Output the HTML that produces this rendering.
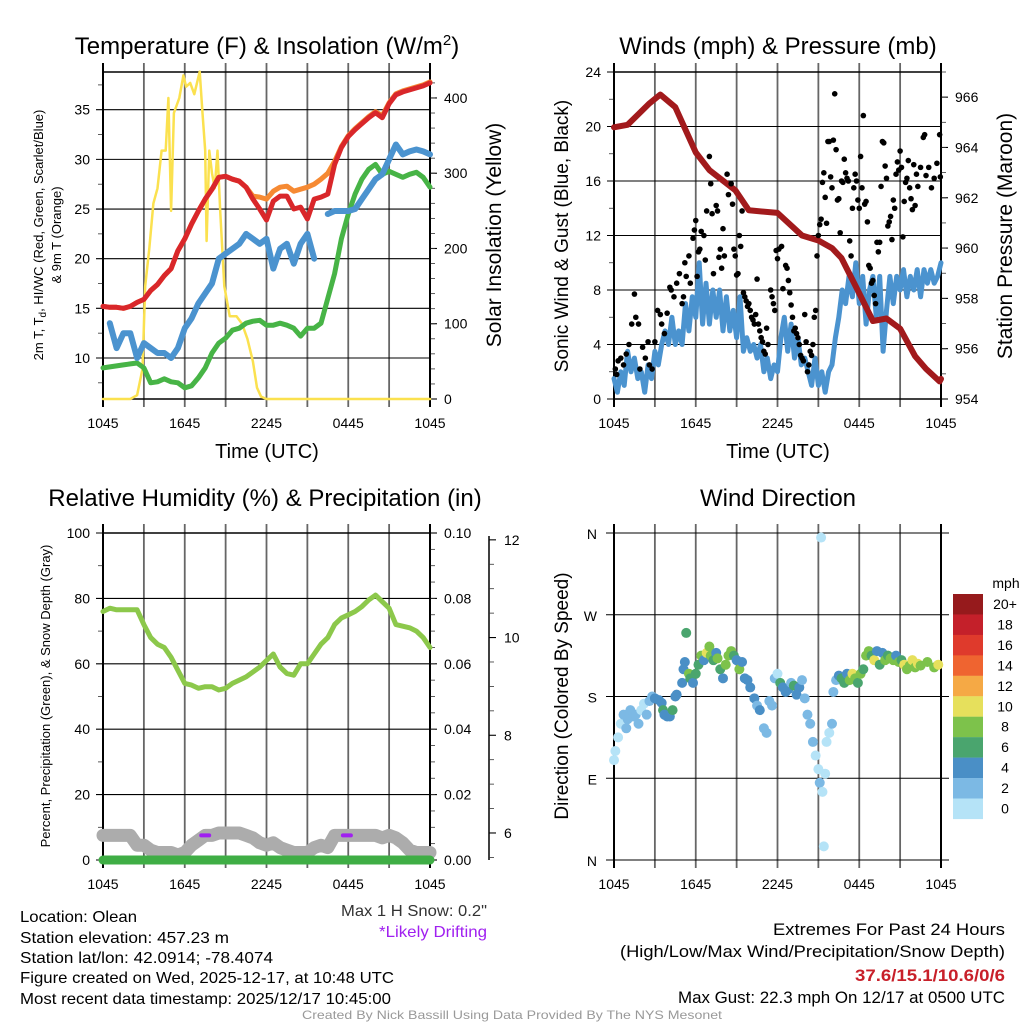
<!DOCTYPE html>
<html><head><meta charset="utf-8"><style>
body{margin:0;background:#fff}
svg text{font-family:"Liberation Sans",sans-serif;fill:#000}
</style></head><body>
<svg id="c" xmlns="http://www.w3.org/2000/svg" width="1024" height="1024" viewBox="0 0 1024 1024">
<rect width="1024" height="1024" fill="#fff"/>
<g id="layer"></g>
<text x="267" y="54" font-size="24" text-anchor="middle">Temperature (F) &amp; Insolation (W/m<tspan dy="-9" font-size="15">2</tspan><tspan dy="9">)</tspan></text>
<text x="778" y="54" font-size="24" text-anchor="middle">Winds (mph) &amp; Pressure (mb)</text>
<text x="265" y="506" font-size="24" text-anchor="middle">Relative Humidity (%) &amp; Precipitation (in)</text>
<text x="778" y="506" font-size="24" text-anchor="middle">Wind Direction</text>
<text x="267" y="458" font-size="20" text-anchor="middle">Time (UTC)</text>
<text x="778" y="458" font-size="20" text-anchor="middle">Time (UTC)</text>
<text transform="translate(43,235) rotate(-90)" font-size="13" text-anchor="middle">2m T, T<tspan dy="3" font-size="10">d</tspan><tspan dy="-3">, HI/WC (Red, Green, Scarlet/Blue)</tspan></text>
<text transform="translate(61,235) rotate(-90)" font-size="13" text-anchor="middle">&amp; 9m T (Orange)</text>
<text transform="translate(501,235) rotate(-90)" font-size="21" text-anchor="middle">Solar Insolation (Yellow)</text>
<text transform="translate(568,236) rotate(-90)" font-size="19" text-anchor="middle">Sonic Wind &amp; Gust (Blue, Black)</text>
<text transform="translate(1012,236) rotate(-90)" font-size="21" text-anchor="middle">Station Pressure (Maroon)</text>
<text transform="translate(50,696) rotate(-90)" font-size="13" text-anchor="middle">Percent, Precipitation (Green), &amp; Snow Depth (Gray)</text>
<text transform="translate(568,696) rotate(-90)" font-size="19" text-anchor="middle">Direction (Colored By Speed)</text>
<text x="1006" y="588" font-size="14" text-anchor="middle">mph</text>
<g font-size="16">
<text x="20" y="922" textLength="117" lengthAdjust="spacingAndGlyphs">Location: Olean</text>
<text x="20" y="943" textLength="209" lengthAdjust="spacingAndGlyphs">Station elevation: 457.23 m</text>
<text x="20" y="963" textLength="253" lengthAdjust="spacingAndGlyphs">Station lat/lon: 42.0914; -78.4074</text>
<text x="20" y="983" textLength="374" lengthAdjust="spacingAndGlyphs">Figure created on Wed, 2025-12-17, at 10:48 UTC</text>
<text x="20" y="1004" textLength="371" lengthAdjust="spacingAndGlyphs">Most recent data timestamp: 2025/12/17 10:45:00</text>
</g>
<text x="341" y="916" font-size="16" textLength="146" lengthAdjust="spacingAndGlyphs" style="fill:#333">Max 1 H Snow: 0.2"</text>
<text x="379" y="937" font-size="16" textLength="108" lengthAdjust="spacingAndGlyphs" style="fill:#a020f0">*Likely Drifting</text>
<g font-size="17">
<text x="773" y="935" textLength="232" lengthAdjust="spacingAndGlyphs">Extremes For Past 24 Hours</text>
<text x="620" y="957" textLength="385" lengthAdjust="spacingAndGlyphs">(High/Low/Max Wind/Precipitation/Snow Depth)</text>
<text x="855" y="981" font-weight="bold" textLength="150" lengthAdjust="spacingAndGlyphs" style="fill:#c8202a">37.6/15.1/10.6/0/6</text>
<text x="678" y="1003" textLength="327" lengthAdjust="spacingAndGlyphs">Max Gust: 22.3 mph On 12/17 at 0500 UTC</text>
</g>
<text x="302" y="1019" font-size="12" style="fill:#999" textLength="420" lengthAdjust="spacingAndGlyphs">Created By Nick Bassill Using Data Provided By The NYS Mesonet</text>
</svg>
<script>
// ---- data ----
const xTickLabels=["1045","1645","2245","0445","1045"];
const t30=[0,0.5,1,1.5,2,2.5,3,3.5,4,4.5,5,5.5,6,6.5,7,7.5,8,8.5,9,9.5,10,10.5,11,11.5,12,12.5,13,13.5,14,14.5,15,15.5,16,16.5,17,17.5,18,18.5,19,19.5,20,20.5,21,21.5,22,22.5,23,23.5,24];
const tempRed=[15.2,15.1,15.1,15.0,15.2,15.6,15.9,16.8,17.4,18.3,19.0,20.8,22.0,23.5,24.8,26.0,27.0,28.2,28.3,28.0,27.8,27.2,26.0,25.0,23.9,25.8,26.3,26.3,25.0,25.2,24.0,26.0,26.2,26.5,29.5,31.2,32.3,33.0,33.6,34.2,34.7,34.2,35.6,36.5,36.8,37.0,37.2,37.4,37.7];
const temp9m=[15.2,15.1,15.1,15.0,15.2,15.6,15.9,16.8,17.4,18.3,19.0,20.8,22.0,23.5,24.8,26.0,27.0,28.2,28.3,28.0,27.8,27.2,26.3,26.2,26.0,26.8,27.2,27.3,26.8,27.0,27.2,27.5,28.0,28.6,29.8,31.3,32.4,33.1,33.7,34.3,34.8,34.4,35.7,36.6,36.9,37.1,37.3,37.5,37.8];
const dewGreen=[9.0,9.1,9.2,9.3,9.4,9.5,9.0,7.5,7.6,7.9,7.6,7.5,7.0,7.2,8.0,9.0,10.5,11.5,12.0,12.8,13.0,13.5,13.7,13.8,13.3,13.3,13.5,13.3,13.0,12.2,13.0,13.0,13.5,16.0,18.5,22.0,24.5,26.5,28.0,29.0,29.5,28.5,28.8,28.5,28.2,28.5,28.7,28.2,27.2];
const chillBlue=[null,13.5,11.0,12.5,12.5,10.0,11.5,11.0,10.5,10.5,10.0,11.0,13.0,14.0,15.5,16.5,17.5,20.0,20.5,21.0,21.5,22.5,22.0,21.5,22.0,19.0,21.0,21.5,19.5,21.5,22.5,20.0,null,24.5,24.8,24.8,24.8,25.0,26.0,27.0,28.0,28.5,30.0,31.5,30.5,30.8,31.0,30.8,30.5];
const insolT=[0,2,2.5,2.9,3.1,3.4,3.7,4.0,4.3,4.6,4.8,5.0,5.2,5.6,5.9,6.1,6.4,6.7,6.9,7.1,7.3,7.5,7.6,7.8,8.0,8.2,8.4,8.6,8.9,9.3,9.8,10.2,10.6,11.0,11.3,11.6,12,24];
const insolV=[0,0,5,40,150,200,260,280,330,330,400,250,380,400,430,415,420,405,420,435,380,330,210,330,300,280,330,250,150,110,110,100,80,50,15,3,0,0];
const windBlue=[1.5,0.5,2,1,3.5,2,3,1.5,2,0.5,2.5,1.5,3.5,2.5,4,5,4,6,4,5,4,7,5,7.5,6,10,5.5,8.5,5.5,8,6,8,5,7.5,5,6.5,4.5,7.5,3.5,4.5,3.5,4,3,4,2,3,1.5,2.5,2,4.5,6,3.5,5.5,3,4.5,2.5,3,2,1,3,1,2,0.5,2,2.5,4.5,6,8,7,9,7.5,10,7,9,5.5,8,9,6,9,3.5,6.5,9,7,9,8,9.5,7.5,9,8,9.5,7.5,9.5,8.5,9.5,8.5,9,10];
const presT=[0,1,2.6,3.4,4.5,6,7,8.9,9.9,12,13.8,15,16,16.7,18,19,20,21,22.1,22.9,23.9,24];
const presV=[964.8,964.9,965.75,966.1,965.6,963.8,963.1,962.3,961.5,961.4,960.5,960.3,960.0,959.6,958.2,957.1,957.2,956.8,955.7,955.2,954.7,954.8];
const gustPts=[[0.1,2.2],[0.2,1.8],[0.3,2.8],[0.5,3.0],[0.7,2.5],[0.9,3.3],[1.1,4.0],[1.3,5.5],[1.5,7.7],[1.6,6.0],[1.8,5.5],[1.9,2.2],[2.1,3.8],[2.3,3.0],[2.5,4.2],[2.6,2.5],[2.8,2.2],[3.0,4.2],[3.2,6.5],[3.4,6.2],[3.5,5.5],[3.7,4.8],[3.9,6.3],[4.1,8.2],[4.2,8.0],[4.4,7.5],[4.6,8.5],[4.8,9.2],[5.0,7.0],[5.1,7.5],[5.2,10.0],[5.3,9.0],[5.5,10.5],[5.6,8.5],[5.8,11.8],[5.9,12.4],[6.0,13.1],[6.1,9.0],[6.2,10.8],[6.3,11.0],[6.4,12.3],[6.6,12.0],[6.7,10.2],[6.8,13.8],[7.0,17.8],[7.1,15.8],[7.2,13.6],[7.3,9.2],[7.5,14.2],[7.6,13.8],[7.7,10.4],[7.8,11.0],[7.9,9.6],[8.0,12.5],[8.1,10.5],[8.3,16.5],[8.4,15.0],[8.6,15.8],[8.7,14.3],[8.8,11.0],[8.9,10.5],[9.0,9.1],[9.1,9.2],[9.2,12.0],[9.3,11.2],[9.4,13.8],[9.5,7.8],[9.6,7.5],[9.7,7.2],[9.8,6.8],[9.9,7.0],[10.0,6.5],[10.1,6.0],[10.2,5.8],[10.3,5.5],[10.4,6.2],[10.5,8.8],[10.6,5.5],[10.7,5.0],[10.8,4.5],[10.9,4.2],[11.0,3.5],[11.1,3.3],[11.2,5.2],[11.3,4.0],[11.5,8.0],[11.6,7.5],[11.7,7.0],[11.8,6.5],[11.9,10.9],[12.0,10.3],[12.1,11.0],[12.3,11.2],[12.4,8.1],[12.6,9.8],[12.7,9.6],[12.8,8.7],[12.9,7.8],[13.0,6.9],[13.1,6.0],[13.2,5.0],[13.3,5.2],[13.4,4.8],[13.5,4.5],[13.6,4.0],[13.7,3.2],[13.8,3.0],[13.9,2.8],[14.0,6.2],[14.1,4.2],[14.2,2.0],[14.3,2.5],[14.4,3.5],[14.5,3.2],[14.6,4.0],[14.7,6.0],[14.8,6.5],[14.9,10.5],[15.0,12.0],[15.1,12.8],[15.2,13.2],[15.3,15.9],[15.4,16.6],[15.5,14.8],[15.6,12.9],[15.7,18.9],[15.8,18.9],[15.9,16.3],[16.0,15.5],[16.1,19.0],[16.2,22.4],[16.3,18.3],[16.4,14.6],[16.5,14.7],[16.6,12.2],[16.7,16.0],[16.8,15.9],[16.9,17.6],[17.0,16.6],[17.1,16.2],[17.2,16.0],[17.3,11.6],[17.4,10.5],[17.5,14.0],[17.6,15.5],[17.7,16.5],[17.8,16.0],[17.9,14.6],[18.0,14.0],[18.1,17.8],[18.2,15.5],[18.3,20.8],[18.4,14.3],[18.5,14.5],[18.6,13.0],[18.7,9.8],[18.8,9.6],[18.9,8.5],[19.0,8.7],[19.1,7.6],[19.2,7.0],[19.3,11.5],[19.4,10.8],[19.5,11.5],[19.6,15.6],[19.7,18.9],[19.8,18.8],[19.9,17.1],[20.0,16.2],[20.1,12.7],[20.2,13.0],[20.3,13.4],[20.4,11.7],[20.5,14.6],[20.6,14.0],[20.7,16.5],[20.8,17.4],[20.9,16.8],[21.0,18.2],[21.1,17.0],[21.2,11.9],[21.3,14.5],[21.4,15.9],[21.5,16.2],[21.6,17.5],[21.7,15.5],[21.8,14.7],[21.9,13.9],[22.0,17.2],[22.1,14.2],[22.2,16.5],[22.3,15.6],[22.5,17.0],[22.7,19.2],[22.8,19.4],[22.9,16.4],[23.1,17.0],[23.3,15.5],[23.5,16.2],[23.7,17.3],[23.9,19.4],[23.95,16.3]];
const rhT=t30;
const rhV=[76,77,76.5,76.5,76.5,76.5,72,68,66,65,62,58,54,53.5,52.5,53,53,52,52.5,54,55,56,57.5,59,61,63,59,57,56.5,60,60,63,66,68,72,74,75,76,77.5,79.5,81,79,77,72,71.5,71,70,68,65];
const snowV=[5.95,5.95,5.95,5.95,5.95,5.75,5.75,5.65,5.6,5.6,5.6,5.55,5.6,5.75,5.85,5.95,5.95,6.0,6.0,6.0,6.0,5.95,5.9,5.8,5.75,5.8,5.7,5.65,5.6,5.6,5.6,5.7,5.75,5.7,5.95,5.95,5.95,5.95,5.95,5.95,5.95,5.9,5.95,5.9,5.8,5.65,5.6,5.6,5.6];
const precipV=[0,0];
const driftT=[7.5,17.9];
const driftV=[5.95,5.95];
const dirT=[0,0.1,0.3,0.5,0.7,0.9,1.0,1.2,1.4,1.6,1.8,2.0,2.2,2.4,2.6,2.8,3.0,3.3,3.5,3.6,3.7,3.9,4.1,4.3,4.5,4.6,5.0,5.1,5.2,5.3,5.5,5.6,5.8,6.0,6.2,6.4,6.6,6.8,7.0,7.1,7.3,7.5,7.6,7.8,8.0,8.2,8.4,8.6,8.8,9.0,9.2,9.4,9.6,9.8,10.0,10.3,10.5,10.7,11.0,11.2,11.4,11.6,11.8,12.0,12.2,12.4,12.6,12.8,13.0,13.2,13.4,13.6,13.8,14.0,14.2,14.4,14.6,14.8,15.0,15.1,15.2,15.3,15.4,15.5,15.6,15.8,16.0,16.1,16.3,16.5,16.7,16.9,17.1,17.3,17.5,17.7,17.9,18.1,18.3,18.5,18.7,18.9,19.1,19.3,19.5,19.7,19.9,20.1,20.3,20.5,20.7,20.9,21.1,21.3,21.5,21.7,21.9,22.1,22.3,22.5,23.0,23.5,23.8];
const dirV=[110,120,135,150,160,145,155,165,158,160,150,165,172,160,175,180,178,176,173,165,160,158,158,165,180,182,195,210,218,250,205,200,195,205,215,225,220,228,235,225,220,228,222,210,200,215,225,230,225,220,210,218,200,198,190,178,170,165,145,140,175,170,200,205,195,190,185,188,195,192,182,190,198,178,160,150,130,115,100,85,355,75,15,95,130,140,150,185,198,203,200,195,205,198,205,200,195,205,210,225,230,225,220,230,215,228,220,225,222,220,225,218,220,215,210,214,220,212,216,214,218,212,215];
const dirSpd=[1,1,1,1,2,2,2,3,2,3,2,1,1,2,2,3,4,4,5,7,5,4,4,6,4,4,4,5,4,6,8,6,4,7,6,8,4,10,8,8,6,5,8,7,4,8,9,8,6,4,8,4,4,4,4,4,3,4,3,3,3,3,2,1,6,4,4,5,3,6,4,4,2,2,3,2,2,1,1,3,0,1,1,1,1,1,2,2,3,4,6,7,4,8,10,8,7,8,6,8,8,7,10,4,6,4,8,6,8,8,4,8,6,10,8,8,10,8,10,9,8,9,10];
const cbLabels=["20+","18","16","14","12","10","8","6","4","2","0"];
const cbColors=["#961a1c","#c4202a","#df3a2c","#ef6430","#f5a945","#e6e05c","#7dc24b","#4aa56e","#4a8fc6","#7cb9e4","#b5e3f7"];

// ---- helpers ----
const NS="http://www.w3.org/2000/svg";
const L=document.getElementById('layer');
function mk(tag,attrs,parent){const e=document.createElementNS(NS,tag);for(const k in attrs)e.setAttribute(k,attrs[k]);(parent||L).appendChild(e);return e;}
const P1={x0:103,x1:430,y0:72,y1:399},P2={x0:614,x1:941,y0:72,y1:399},P3={x0:103,x1:430,y0:533,y1:860},P4={x0:614,x1:941,y0:533,y1:860};
function xs(p,t){return p.x0+t/24*(p.x1-p.x0);}
function ys(p,v,mn,mx){return p.y1-(v-mn)/(mx-mn)*(p.y1-p.y0);}
function path(p,T,V,mn,mx,color,w,name){
  let d="",pen=false;
  for(let i=0;i<T.length;i++){if(V[i]===null||V[i]===undefined){pen=false;continue;}
    d+=(pen?"L":"M")+xs(p,T[i]).toFixed(1)+","+ys(p,V[i],mn,mx).toFixed(1);pen=true;}
  const e=mk('path',{d:d,fill:'none',stroke:color,'stroke-width':w,'stroke-linejoin':'round','stroke-linecap':'round'});
  
  
  return e;
}
function txt(x,y,s,size,anchor,name){const e=mk('text',{x:x,y:y,'font-size':size,'text-anchor':anchor});e.textContent=s;
  
  
  return e;}
function frame(p,leftT,leftMinor,mn,mx,leftFmt,rightT,rightMinor,rmn,rmx,rightFmt,gridName){
  const g=mk('g',{});
  
  
  for(let h=0;h<=24;h+=3){const x=xs(p,h);
    mk('line',{x1:x,x2:x,y1:p.y0-9,y2:p.y1+8,stroke:(h==0||h==24)?'#000':'#666','stroke-width':(h==0||h==24)?2:1.8},g);}
  xTickLabels.forEach((s,i)=>txt(xs(p,i*6),p.y1+29,s,14,'middle','x-tick-label'));
  leftT.forEach(v=>{const y=ys(p,v,mn,mx);mk('line',{x1:p.x0-7,x2:p.x1+(rightT?0:7),y1:y,y2:y,stroke:'#000','stroke-width':1.1},g);
    txt(p.x0-13,y+5,leftFmt(v),14,'end','y-tick-label');});
  leftMinor.forEach(v=>{const y=ys(p,v,mn,mx);mk('line',{x1:p.x0-5,x2:p.x0,y1:y,y2:y,stroke:'#333','stroke-width':0.8},g);});
  if(rightT){rightT.forEach(v=>{const y=ys(p,v,rmn,rmx);mk('line',{x1:p.x1,x2:p.x1+7,y1:y,y2:y,stroke:'#000','stroke-width':1.1},g);
    txt(p.x1+14,y+5,rightFmt(v),14,'start','right-tick-label');});
    rightMinor.forEach(v=>{const y=ys(p,v,rmn,rmx);mk('line',{x1:p.x1,x2:p.x1+5,y1:y,y2:y,stroke:'#333','stroke-width':0.8},g);});}
  mk('rect',{x:p.x0,y:p.y0,width:p.x1-p.x0,height:p.y1-p.y0,fill:'none',stroke:'#000','stroke-width':1.5},g);
}
function range(a,b,s){const r=[];for(let v=a;v<=b+1e-9;v+=s)r.push(+v.toFixed(4));return r;}

// ---- panel 1 ----
const T1MIN=5.87,T1MAX=38.8,I1MAX=434.5;
frame(P1,range(10,35,5),range(7.5,37.5,5),T1MIN,T1MAX,v=>v,range(0,400,100),range(20,420,20),0,I1MAX,v=>v,'temp-grid');
path(P1,insolT,insolV,0,I1MAX,'#fbe14f',2.5,'insolation-line');
path(P1,t30,dewGreen,T1MIN,T1MAX,'#47b446',5,'dewpoint-line');
path(P1,t30,chillBlue,T1MIN,T1MAX,'#4b93cf',6,'wind-chill-line');
path(P1,t30,temp9m,T1MIN,T1MAX,'#f68a33',5,'temp-9m-line');
path(P1,t30,tempRed,T1MIN,T1MAX,'#d9272a',5,'temp-2m-line');

// ---- panel 2 ----
frame(P2,range(0,24,4),range(2,22,4),0,24,v=>v,range(954,966,2),range(955,967,1),954,967,v=>v,'wind-grid');
const t15=windBlue.map((v,i)=>i*0.25);
path(P2,t15,windBlue,0,24,'#4b93cf',5,'sonic-wind-line');
path(P2,presT,presV,954,967,'#a21a1c',6,'pressure-line');
gustPts.forEach(pt=>{const c=mk('circle',{cx:xs(P2,pt[0]),cy:ys(P2,pt[1],0,24),r:2.8,fill:'#000'});
  
  });

// ---- panel 3 ----
const SMIN=5.447,SMAX=12.14;
frame(P3,range(0,100,20),range(10,90,20),0,100,v=>v,range(0,0.1,0.02),range(0.005,0.095,0.005),0,0.1,v=>v.toFixed(2),'rh-grid');
const sa=mk('g',{});


mk('line',{x1:489,x2:489,y1:P3.y0+3,y2:P3.y1,stroke:'#000','stroke-width':1.5},sa);
[6,8,10,12].forEach(v=>{const y=ys(P3,v,SMIN,SMAX);mk('line',{x1:489,x2:496,y1:y,y2:y,stroke:'#000','stroke-width':1.1},sa);txt(504,y+5,String(v),14,'start','snow-tick-label');});
range(5.5,11.5,0.5).forEach(v=>{if(v%2){const y=ys(P3,v,SMIN,SMAX);mk('line',{x1:489,x2:494,y1:y,y2:y,stroke:'#333','stroke-width':0.8},sa);}});
path(P3,t30,snowV,SMIN,SMAX,'#acacac',13,'snow-depth-line');
path(P3,[0,24],precipV,0,0.1,'#3fae45',9,'precip-line');
driftT.forEach((t,i)=>{const y=ys(P3,driftV[i],SMIN,SMAX);const e=mk('line',{x1:xs(P3,t)-4,x2:xs(P3,t)+4,y1:y,y2:y,stroke:'#a020f0','stroke-width':4,'stroke-linecap':'round'});
  
  });
path(P3,rhT,rhV,0,100,'#8cc84b',5,'rh-line');

// ---- panel 4 ----
const dirLabels=["N","E","S","W","N"];
const g4=mk('g',{});


for(let h=0;h<=24;h+=3){const x=xs(P4,h);mk('line',{x1:x,x2:x,y1:P4.y0-9,y2:P4.y1+8,stroke:(h==0||h==24)?'#000':'#666','stroke-width':(h==0||h==24)?2:1.8},g4);}
xTickLabels.forEach((s,i)=>txt(xs(P4,i*6),P4.y1+29,s,14,'middle','x-tick-label'));
dirLabels.forEach((s,i)=>{const y=ys(P4,i*90,0,360);mk('line',{x1:P4.x0-8,x2:P4.x1+8,y1:y,y2:y,stroke:'#000','stroke-width':1.1},g4);
  txt(P4.x0-17,y+6,s,14,'end','direction-label');});
mk('line',{x1:P4.x0,x2:P4.x0,y1:P4.y0,y2:P4.y1,stroke:'#000','stroke-width':1.5},g4);
function spdColor(s){const b=Math.min(10,Math.floor(s/2));return cbColors[10-b];}
dirT.forEach((t,i)=>{const c=mk('circle',{cx:xs(P4,t),cy:ys(P4,dirV[i],0,360),r:5,fill:spdColor(dirSpd[i])});
  
  });
cbLabels.forEach((s,i)=>{const y=594+i*20.45;const r=mk('rect',{x:953,y:y,width:30,height:20.6,fill:cbColors[i]});
  
  
  txt(1005,y+15,s,14,'middle','colorbar-label');});
</script>
</body></html>
